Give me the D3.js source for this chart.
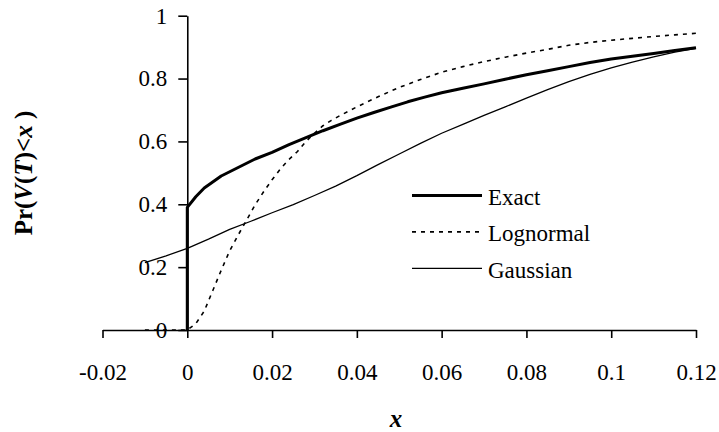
<!DOCTYPE html>
<html>
<head>
<meta charset="utf-8">
<script src="https://cdn.jsdelivr.net/npm/d3@7"></script>
<style>
  body { margin: 0; background: #fff; }
  svg { display: block; }
  text { font-family: "Liberation Serif", "DejaVu Serif", serif; }
</style>
</head>
<body>
<svg id="chart"></svg>
<script>
// Exact distribution (jump at x = 0)
const exactX = [0, 0, 0.002, 0.004, 0.008, 0.012, 0.016, 0.02, 0.024, 0.028, 0.032, 0.036, 0.04, 0.044, 0.048, 0.052, 0.056, 0.06, 0.065, 0.07, 0.075, 0.08, 0.085, 0.09, 0.095, 0.1, 0.105, 0.11, 0.115, 0.12];
const exactY = [0, 0.39, 0.424, 0.452, 0.49, 0.517, 0.544, 0.565, 0.59, 0.612, 0.634, 0.654, 0.674, 0.692, 0.709, 0.726, 0.741, 0.755, 0.769, 0.783, 0.798, 0.812, 0.825, 0.838, 0.851, 0.862, 0.871, 0.88, 0.889, 0.898];

// Lognormal approximation
const lognormalX = [-0.01, 0, 0.002, 0.004, 0.006, 0.008, 0.01, 0.012, 0.014, 0.016, 0.018, 0.02, 0.022, 0.024, 0.026, 0.028, 0.03, 0.032, 0.034, 0.036, 0.038, 0.04, 0.045, 0.05, 0.055, 0.06, 0.065, 0.07, 0.075, 0.08, 0.085, 0.09, 0.095, 0.1, 0.105, 0.11, 0.115, 0.12];
const lognormalY = [0, 0, 0.02, 0.06, 0.125, 0.19, 0.252, 0.302, 0.35, 0.398, 0.44, 0.478, 0.513, 0.543, 0.568, 0.6, 0.626, 0.65, 0.667, 0.682, 0.696, 0.71, 0.742, 0.772, 0.797, 0.82, 0.838, 0.854, 0.868, 0.881, 0.893, 0.906, 0.915, 0.922, 0.928, 0.934, 0.939, 0.944];

// Gaussian approximation
const gaussianX = [-0.01, -0.005, 0, 0.005, 0.01, 0.015, 0.02, 0.025, 0.03, 0.035, 0.04, 0.045, 0.05, 0.055, 0.06, 0.065, 0.07, 0.075, 0.08, 0.085, 0.09, 0.095, 0.1, 0.105, 0.11, 0.115, 0.12];
const gaussianY = [0.214, 0.236, 0.26, 0.289, 0.32, 0.346, 0.373, 0.399, 0.428, 0.458, 0.491, 0.526, 0.56, 0.594, 0.626, 0.654, 0.683, 0.71, 0.738, 0.765, 0.79, 0.813, 0.834, 0.852, 0.869, 0.884, 0.896];

const seriesNames = ['Exact', 'Lognormal', 'Gaussian'];
const xTicks = [-0.02, 0, 0.02, 0.04, 0.06, 0.08, 0.1, 0.12];
const yTicks = [0, 0.2, 0.4, 0.6, 0.8, 1];

const width = 719;
const height = 432;
const serif = '"Liberation Serif", "DejaVu Serif", serif';

const svg = d3.select('#chart')
  .attr('width', width)
  .attr('height', height);

const x = d3.scaleLinear().domain([-0.02, 0.12]).range([102.5, 696]);
const y = d3.scaleLinear().domain([0, 1]).range([330, 15.7]);

const zip = (xs, ys) => xs.map((v, i) => [v, ys[i]]);
const series = [
  { name: seriesNames[0], data: zip(exactX, exactY), width: 3, dash: null },
  { name: seriesNames[1], data: zip(lognormalX, lognormalY), width: 1.6, dash: '4,5' },
  { name: seriesNames[2], data: zip(gaussianX, gaussianY), width: 1.3, dash: null }
];

const fmt = d => String(+d.toFixed(2));

// X axis along y = 0
const xAxis = svg.append('g')
  .attr('transform', `translate(0,${y(0)})`)
  .call(d3.axisBottom(x).tickValues(xTicks).tickFormat(fmt).tickSize(8).tickSizeOuter(0).tickPadding(26));

// Y axis at x = 0
const yAxis = svg.append('g')
  .attr('transform', `translate(${x(0)},0)`)
  .call(d3.axisLeft(y).tickValues(yTicks).tickFormat(fmt).tickSize(9).tickSizeOuter(0).tickPadding(11));

[xAxis, yAxis].forEach(a => {
  a.attr('font-family', serif).attr('font-size', 23);
  a.select('.domain').attr('stroke', '#000').attr('stroke-width', 1.6);
  a.selectAll('.tick line').attr('stroke', '#000').attr('stroke-width', 1.6);
  a.selectAll('.tick text')
    .attr('fill', '#000')
    .attr('font-family', serif)
    .attr('font-size', 23);
});

// Curves
const line = d3.line()
  .x(d => x(d[0]))
  .y(d => y(d[1]));

svg.append('g')
  .selectAll('path')
  .data(series)
  .enter()
  .append('path')
  .attr('d', d => line(d.data))
  .attr('fill', 'none')
  .attr('stroke', '#000')
  .attr('stroke-width', d => d.width)
  .attr('stroke-dasharray', d => d.dash)
  .attr('stroke-linejoin', 'round');

// Legend
const legend = svg.append('g')
  .selectAll('g')
  .data(series)
  .enter()
  .append('g')
  .attr('transform', (d, i) => `translate(412,${195.5 + i * 36.4})`);

legend.append('line')
  .attr('x1', 0)
  .attr('x2', 70)
  .attr('stroke', '#000')
  .attr('stroke-width', d => d.width)
  .attr('stroke-dasharray', d => d.dash);

legend.append('text')
  .attr('x', 76)
  .attr('y', 9.5)
  .attr('font-family', serif)
  .attr('font-size', 23)
  .attr('fill', '#000')
  .text(d => d.name);

// Axis titles
const yTitle = svg.append('text')
  .attr('transform', 'translate(32,173) rotate(-90)')
  .attr('text-anchor', 'middle')
  .attr('font-family', serif)
  .attr('font-size', 25)
  .attr('font-weight', 'bold')
  .attr('fill', '#000');
yTitle.append('tspan').text('Pr(');
yTitle.append('tspan').attr('font-style', 'italic').text('V');
yTitle.append('tspan').text('(');
yTitle.append('tspan').attr('font-style', 'italic').text('T');
yTitle.append('tspan').text(')<');
yTitle.append('tspan').attr('font-style', 'italic').text('x');
yTitle.append('tspan').text('\u00a0)');

svg.append('text')
  .attr('x', 396)
  .attr('y', 427)
  .attr('text-anchor', 'middle')
  .attr('font-family', serif)
  .attr('font-size', 25)
  .attr('font-weight', 'bold')
  .attr('font-style', 'italic')
  .attr('fill', '#000')
  .text('x');
</script>
</body>
</html>
